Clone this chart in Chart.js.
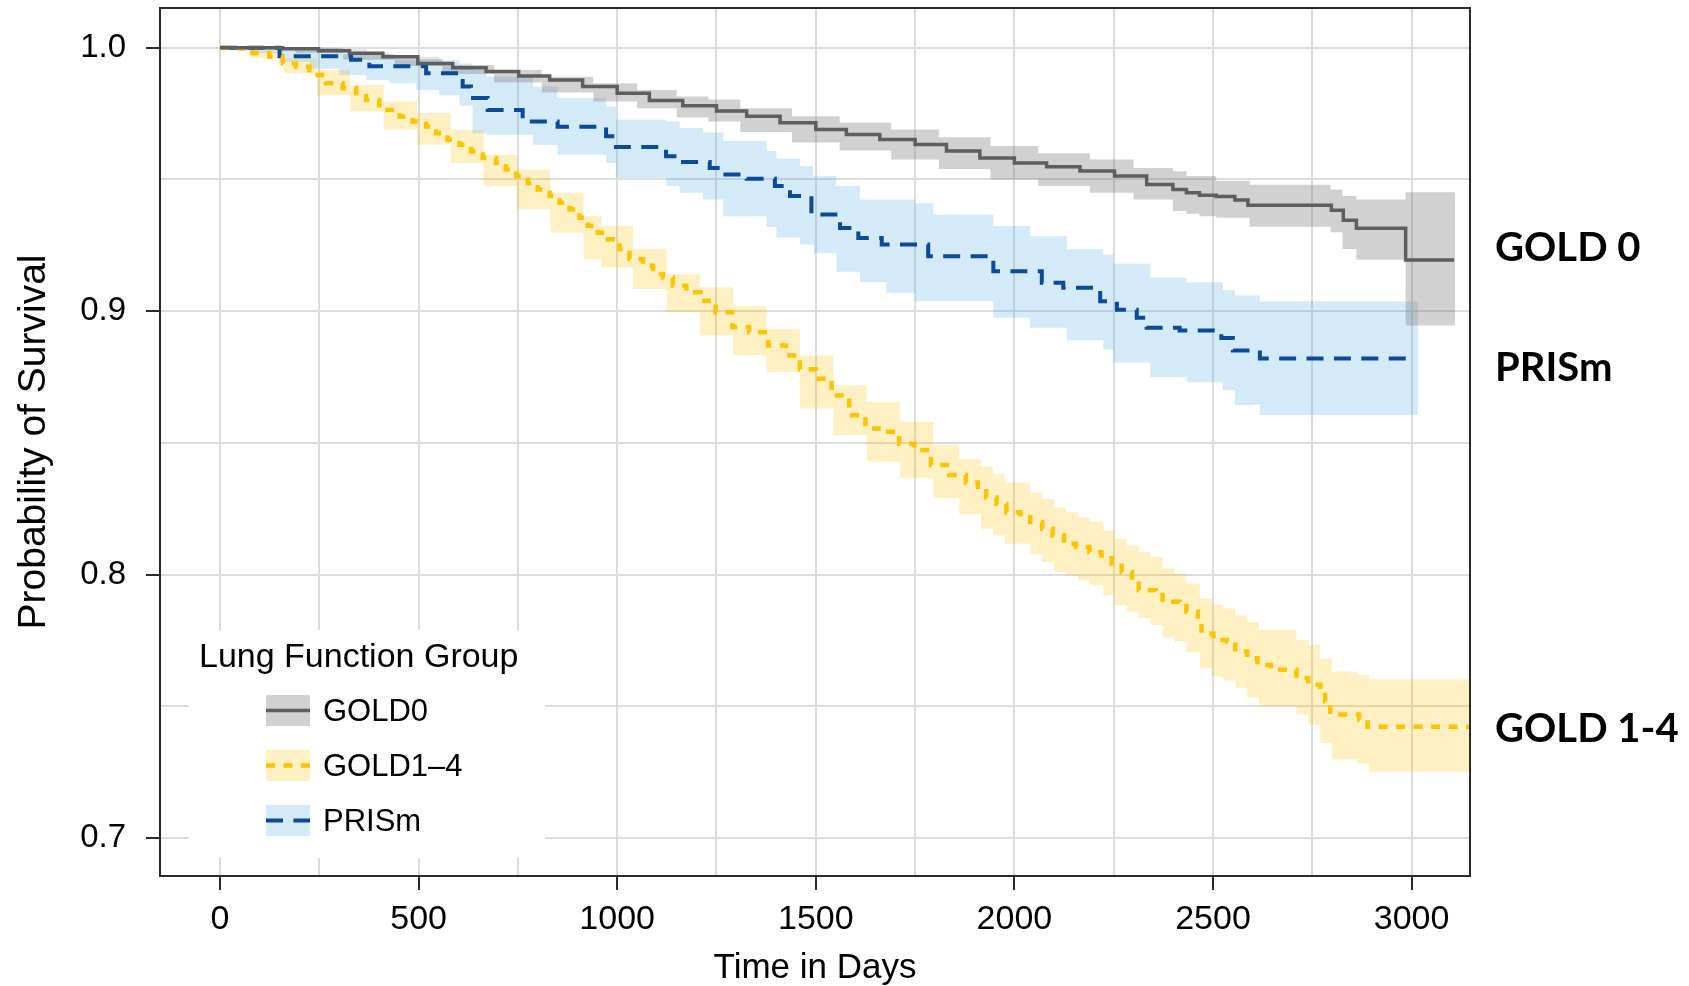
<!DOCTYPE html>
<html>
<head>
<meta charset="utf-8">
<script src="https://cdn.jsdelivr.net/npm/chart.js@4.4.0/dist/chart.umd.min.js"></script>
<style>
  html, body { margin: 0; padding: 0; background: #fff; }
  #wrap { width: 1689px; height: 986px; position: relative; }
</style>
</head>
<body>
<div id="wrap"><canvas id="km"></canvas></div>
<script>
// --- Axis setup ---
const xGridTicks = [0, 250, 500, 750, 1000, 1250, 1500, 1750, 2000, 2250, 2500, 2750, 3000];
const xMajorTicks = [0, 500, 1000, 1500, 2000, 2500, 3000];
const yGridTicks = [0.7, 0.75, 0.8, 0.85, 0.9, 0.95, 1.0];
const yMajorTicks = [0.7, 0.8, 0.9, 1.0];
const xRange = [-151, 3147];
const yRange = [0.6856, 1.0151];

// --- GOLD0 (Kaplan-Meier estimate + confidence band) ---
const gold0Time = [0, 74, 158, 248, 326, 410, 498, 586, 670, 752, 830, 913, 1000, 1081, 1165, 1250, 1326, 1410, 1500, 1577, 1661, 1750, 1829, 1913, 2000, 2081, 2165, 2252, 2333, 2399, 2433, 2466, 2508, 2555, 2588, 2798, 2828, 2861, 2985, 3107];
const gold0Surv = [1.0, 1.0, 0.9996, 0.9989, 0.9979, 0.9966, 0.994, 0.9924, 0.991, 0.9893, 0.9878, 0.9853, 0.9827, 0.980, 0.978, 0.976, 0.974, 0.9715, 0.969, 0.9671, 0.9652, 0.9633, 0.9608, 0.9582, 0.9563, 0.9548, 0.9532, 0.9513, 0.9481, 0.9462, 0.945, 0.944, 0.9435, 0.9422, 0.9402, 0.9383, 0.9345, 0.9315, 0.9194, 0.9194];
const gold0BandTime = [0, 50, 190, 310, 440, 560, 690, 810, 940, 1050, 1150, 1230, 1310, 1440, 1560, 1690, 1810, 1940, 2060, 2190, 2300, 2399, 2433, 2466, 2508, 2592, 2796, 2826, 2861, 2985, 3110];
const gold0Upper = [1.0, 1.0, 0.9998, 0.9975, 0.9956, 0.9935, 0.9916, 0.989, 0.9865, 0.984, 0.9815, 0.9804, 0.977, 0.974, 0.9715, 0.969, 0.966, 0.9627, 0.960, 0.9576, 0.9544, 0.9531, 0.9513, 0.9513, 0.9494, 0.948, 0.9462, 0.9437, 0.9424, 0.9452, 0.9452];
const gold0Lower = [1.0, 0.9993, 0.998, 0.9955, 0.9931, 0.990, 0.9868, 0.983, 0.9796, 0.977, 0.9735, 0.972, 0.968, 0.964, 0.961, 0.9576, 0.954, 0.950, 0.9475, 0.945, 0.9424, 0.938, 0.937, 0.936, 0.9355, 0.9321, 0.930, 0.9236, 0.9195, 0.8946, 0.8946];

// --- PRISm ---
const prismTime = [0, 150, 330, 376, 519, 611, 632, 674, 762, 850, 972, 997, 1123, 1157, 1233, 1267, 1326, 1397, 1435, 1489, 1561, 1607, 1666, 1783, 1947, 2069, 2123, 2216, 2258, 2308, 2333, 2416, 2521, 2550, 2618, 2992];
const prismSurv = [1.0, 0.9968, 0.9955, 0.993, 0.9903, 0.9853, 0.9809, 0.9764, 0.972, 0.970, 0.9664, 0.9623, 0.9588, 0.9566, 0.9544, 0.9519, 0.9503, 0.9475, 0.9437, 0.9367, 0.9316, 0.9278, 0.9253, 0.9209, 0.9152, 0.9108, 0.9089, 0.9038, 0.9006, 0.8975, 0.8937, 0.8927, 0.8898, 0.8851, 0.882, 0.882];
const prismBandTime = [0, 74, 150, 226, 300, 369, 427, 494, 552, 603, 636, 670, 788, 850, 972, 997, 1123, 1157, 1216, 1267, 1376, 1401, 1460, 1494, 1552, 1611, 1678, 1750, 1796, 1947, 2039, 2132, 2224, 2249, 2342, 2433, 2525, 2555, 2618, 3017];
const prismUpper = [1.0, 1.0, 1.0, 1.0, 0.9994, 0.9979, 0.9972, 0.9966, 0.9953, 0.994, 0.9916, 0.989, 0.9853, 0.9809, 0.9777, 0.9727, 0.972, 0.9695, 0.9678, 0.9646, 0.9608, 0.958, 0.955, 0.9513, 0.9475, 0.9424, 0.9424, 0.941, 0.9367, 0.9323, 0.9285, 0.9235, 0.9215, 0.918, 0.9128, 0.911, 0.908, 0.906, 0.9037, 0.9037];
const prismLower = [1.0, 0.9979, 0.9947, 0.992, 0.9897, 0.9878, 0.9865, 0.984, 0.982, 0.978, 0.9676, 0.967, 0.9632, 0.9594, 0.9563, 0.9506, 0.9475, 0.945, 0.9424, 0.936, 0.932, 0.928, 0.9253, 0.922, 0.915, 0.911, 0.907, 0.9038, 0.9038, 0.8975, 0.8937, 0.889, 0.8855, 0.8805, 0.875, 0.873, 0.870, 0.8644, 0.8606, 0.8606];

// --- GOLD1-4 ---
const gold14Time = [0, 40, 82, 124, 158, 191, 225, 267, 309, 343, 368, 401, 452, 485, 519, 544, 573, 603, 632, 662, 695, 720, 746, 775, 800, 830, 855, 880, 905, 926, 951, 976, 1006, 1031, 1065, 1090, 1115, 1140, 1174, 1210, 1248, 1290, 1332, 1380, 1425, 1460, 1500, 1540, 1584, 1625, 1668, 1710, 1748, 1790, 1836, 1878, 1908, 1929, 1955, 1980, 2015, 2040, 2070, 2096, 2125, 2155, 2189, 2219, 2245, 2270, 2296, 2313, 2356, 2373, 2416, 2433, 2462, 2471, 2501, 2535, 2556, 2586, 2612, 2646, 2710, 2740, 2770, 2782, 2795, 2868, 2889, 3146];
const gold14Surv = [1.0, 0.9997, 0.998, 0.9966, 0.994, 0.9928, 0.9897, 0.9865, 0.9846, 0.9827, 0.9802, 0.9764, 0.9739, 0.972, 0.9701, 0.9676, 0.9651, 0.9632, 0.9607, 0.9582, 0.9563, 0.9538, 0.9513, 0.9487, 0.9462, 0.9437, 0.9412, 0.9387, 0.9355, 0.9324, 0.9298, 0.9273, 0.9236, 0.9198, 0.9173, 0.9141, 0.9128, 0.9097, 0.9072, 0.904, 0.8996, 0.894, 0.892, 0.887, 0.8832, 0.878, 0.8744, 0.868, 0.8605, 0.8555, 0.8542, 0.8497, 0.8473, 0.8416, 0.8378, 0.835, 0.8325, 0.8293, 0.8268, 0.8237, 0.8218, 0.82, 0.8174, 0.8149, 0.8117, 0.8105, 0.8086, 0.8073, 0.8042, 0.801, 0.7979, 0.7941, 0.7935, 0.7897, 0.7894, 0.7859, 0.7827, 0.7777, 0.7752, 0.7746, 0.7708, 0.7683, 0.7657, 0.7639, 0.7607, 0.7582, 0.7557, 0.7519, 0.7469, 0.745, 0.7423, 0.7423];
const gold14BandTime = [0, 40, 76, 160, 244, 328, 412, 496, 580, 664, 748, 832, 915, 960, 1040, 1124, 1208, 1292, 1376, 1460, 1544, 1628, 1712, 1796, 1861, 1916, 1946, 1976, 2040, 2070, 2100, 2130, 2160, 2189, 2224, 2253, 2283, 2313, 2343, 2373, 2403, 2433, 2467, 2497, 2526, 2556, 2586, 2616, 2710, 2740, 2770, 2799, 2863, 2893, 3149];
const gold14Upper = [1.0, 1.0, 0.9989, 0.996, 0.9916, 0.9859, 0.9796, 0.9752, 0.9689, 0.9594, 0.9538, 0.945, 0.9361, 0.9324, 0.9237, 0.9141, 0.9091, 0.9021, 0.8933, 0.8832, 0.8719, 0.8656, 0.858, 0.8492, 0.8438, 0.841, 0.8382, 0.835, 0.8312, 0.8287, 0.8256, 0.8237, 0.8218, 0.8202, 0.8168, 0.8136, 0.8111, 0.8086, 0.8067, 0.8023, 0.8004, 0.7966, 0.7909, 0.7887, 0.7872, 0.7846, 0.7821, 0.779, 0.7752, 0.7733, 0.768, 0.7632, 0.762, 0.7603, 0.7603];
const gold14Lower = [1.0, 0.9993, 0.996, 0.9903, 0.982, 0.9758, 0.9689, 0.9632, 0.9563, 0.9475, 0.9387, 0.9298, 0.9198, 0.9166, 0.9084, 0.8996, 0.8908, 0.8832, 0.8769, 0.8631, 0.853, 0.8429, 0.8366, 0.829, 0.823, 0.8174, 0.8149, 0.8117, 0.8076, 0.8048, 0.801, 0.7997, 0.7979, 0.796, 0.7922, 0.7884, 0.7859, 0.7834, 0.7809, 0.7761, 0.7746, 0.7705, 0.7645, 0.7613, 0.7597, 0.7569, 0.7534, 0.750, 0.7469, 0.743, 0.7361, 0.7298, 0.728, 0.7252, 0.7252];

// --- Labels ---
const legendTitle = 'Lung Function Group';
const legendNames = ['GOLD0', 'GOLD1–4', 'PRISm'];
const sideLabels = ['GOLD 0', 'PRISm', 'GOLD 1-4'];
const sideLabelY = [0.9244, 0.8788, 0.7418];

// --- Styles ---
const FONT = '"Liberation Sans", Arial, Helvetica, sans-serif';
const styles = {
  'GOLD0':   { line: '#5e5e5e', band: 'rgba(128,128,128,0.36)', width: 3.5, dash: [] },
  'GOLD1–4': { line: '#ffc400', band: 'rgba(255,190,0,0.23)',   width: 4.5, dash: [9, 8.5] },
  'PRISm':   { line: '#0a4a9c', band: 'rgba(86,172,230,0.25)',  width: 4,   dash: [17, 10.4] }
};

const toPoints = (xs, ys) => xs.map((x, i) => ({ x: x, y: ys[i] }));
const near = (list, v) => list.some(t => Math.abs(t - v) < 1e-6);

function bandPair(name, times, upper, lower) {
  return [
    { label: name + ' upper', data: toPoints(times, upper), stepped: 'before', fill: '+1',
      backgroundColor: styles[name].band, borderColor: 'rgba(0,0,0,0)', borderWidth: 0, pointRadius: 0, order: 2 },
    { label: name + ' lower', data: toPoints(times, lower), stepped: 'before', fill: false,
      borderColor: 'rgba(0,0,0,0)', borderWidth: 0, pointRadius: 0, order: 2 }
  ];
}

function survLine(name, times, surv) {
  const s = styles[name];
  return { label: name, data: toPoints(times, surv), stepped: 'before', fill: false,
    borderColor: s.line, borderWidth: s.width, borderDash: s.dash, borderCapStyle: 'butt',
    pointRadius: 0, order: 1 };
}

// --- Plugins ---
const groupLegend = {
  id: 'groupLegend',
  afterDatasetsDraw(chart) {
    const { ctx, chartArea } = chart;
    const x0 = chartArea.left + 29, y0 = chartArea.bottom - 246;
    ctx.save();
    ctx.fillStyle = '#ffffff';
    ctx.fillRect(x0, y0, 356, 228);
    ctx.fillStyle = '#000';
    ctx.textBaseline = 'middle';
    ctx.font = '34px ' + FONT;
    ctx.fillText(legendTitle, x0 + 10, y0 + 28);
    ctx.font = '31px ' + FONT;
    legendNames.forEach((name, i) => {
      const s = styles[name];
      const kx = x0 + 77, ky = y0 + 65 + i * 55;
      ctx.fillStyle = s.band;
      ctx.fillRect(kx, ky, 44, 31);
      ctx.strokeStyle = s.line;
      ctx.lineWidth = s.width;
      ctx.setLineDash(s.dash);
      ctx.lineDashOffset = 0;
      ctx.beginPath();
      ctx.moveTo(kx, ky + 15.5);
      ctx.lineTo(kx + 44, ky + 15.5);
      ctx.stroke();
      ctx.setLineDash([]);
      ctx.fillStyle = '#000';
      ctx.fillText(name, kx + 57, ky + 17);
    });
    ctx.restore();
  }
};

const frameAndLabels = {
  id: 'frameAndLabels',
  afterDraw(chart) {
    const { ctx, chartArea } = chart;
    ctx.save();
    ctx.strokeStyle = '#2b2b2b';
    ctx.lineWidth = 2;
    ctx.strokeRect(chartArea.left, chartArea.top, chartArea.right - chartArea.left, chartArea.bottom - chartArea.top);
    const size = 40;
    ctx.font = 'bold ' + size + 'px Lato, "Open Sans", sans-serif';
    ctx.fillStyle = '#000';
    ctx.textBaseline = 'alphabetic';
    sideLabels.forEach((t, i) => {
      const py = chart.scales.y.getPixelForValue(sideLabelY[i]);
      ctx.fillText(t, chartArea.right + 25, py + size * 0.36);
    });
    ctx.restore();
  }
};

// --- Chart ---
const datasets = [
  ...bandPair('GOLD0', gold0BandTime, gold0Upper, gold0Lower),
  ...bandPair('PRISm', prismBandTime, prismUpper, prismLower),
  ...bandPair('GOLD1–4', gold14BandTime, gold14Upper, gold14Lower),
  survLine('GOLD0', gold0Time, gold0Surv),
  survLine('GOLD1–4', gold14Time, gold14Surv),
  survLine('PRISm', prismTime, prismSurv)
];

const tickColor = list => ctx => (ctx.tick && near(list, ctx.tick.value)) ? '#2b2b2b' : 'rgba(0,0,0,0)';

new Chart(document.getElementById('km'), {
  type: 'line',
  data: { datasets: datasets },
  plugins: [groupLegend, frameAndLabels],
  options: {
    responsive: true,
    maintainAspectRatio: false,
    animation: false,
    events: [],
    layout: { padding: { top: 8, right: 219, left: 0, bottom: 0 } },
    plugins: { legend: { display: false }, tooltip: { enabled: false } },
    scales: {
      x: {
        type: 'linear', min: xRange[0], max: xRange[1], bounds: 'data',
        afterBuildTicks: s => { s.ticks = xGridTicks.map(v => ({ value: v })); },
        ticks: {
          autoSkip: false, maxRotation: 0, padding: 9,
          color: '#000', font: { family: FONT, size: 34 },
          callback: v => near(xMajorTicks, v) ? String(v) : ''
        },
        grid: { color: '#dcdcdc', lineWidth: 2, drawTicks: true, tickLength: 14, tickWidth: 2, tickColor: tickColor(xMajorTicks) },
        border: { display: false },
        title: { display: true, text: 'Time in Days', color: '#000', font: { family: FONT, size: 35, lineHeight: 1.0 }, padding: { top: 0, bottom: 0 } },
        afterFit: s => { s.height = 110; s.paddingLeft = 0; s.paddingRight = 0; }
      },
      y: {
        type: 'linear', min: yRange[0], max: yRange[1], bounds: 'data',
        afterBuildTicks: s => { s.ticks = yGridTicks.map(v => ({ value: v })); },
        ticks: {
          autoSkip: false, padding: 20,
          color: '#000', font: { family: FONT, size: 33 },
          callback: v => near(yMajorTicks, v) ? v.toFixed(1) : ''
        },
        grid: { color: '#dcdcdc', lineWidth: 2, drawTicks: true, tickLength: 14, tickWidth: 2, tickColor: tickColor(yMajorTicks) },
        border: { display: false },
        title: { display: true, text: 'Probability of Survival', color: '#000', font: { family: FONT, size: 39 }, padding: { top: 11, bottom: 0 } },
        afterFit: s => { s.width = 160; s.paddingTop = 0; s.paddingBottom = 0; }
      }
    }
  }
});
</script>
</body>
</html>
